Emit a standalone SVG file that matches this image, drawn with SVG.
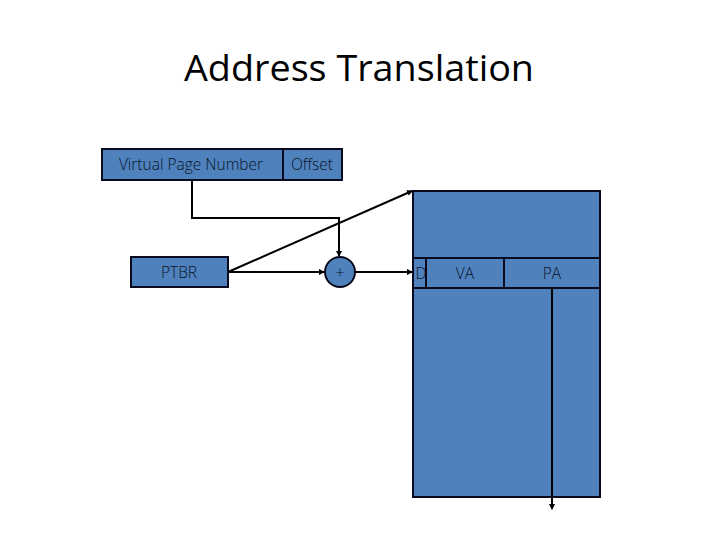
<svg xmlns="http://www.w3.org/2000/svg" width="720" height="540" viewBox="0 0 720 540">
<defs>
<style>
.box{fill:#4F81BD;stroke:#0a0a1e;stroke-width:2}
.lbl{font-family:"Open Sans","Liberation Sans",sans-serif;font-size:15.5px;fill:#0a1428;text-anchor:middle;font-weight:300}
.ln{fill:none;stroke:#000;stroke-width:2}
</style>
<marker id="ah" viewBox="0 0 6 6" refX="5" refY="3" markerWidth="3" markerHeight="3" orient="auto" markerUnits="strokeWidth">
<path d="M0,0 L6,3 L0,6 z" fill="#000"/>
</marker>
</defs>
<rect width="720" height="540" fill="#fff"/>
<text x="359" y="81" font-family="'Open Sans','Liberation Sans',sans-serif" font-size="36" text-anchor="middle" fill="#000" textLength="350" lengthAdjust="spacingAndGlyphs">Address Translation</text>

<g id="vpn">
<rect class="box" x="102" y="149" width="181" height="31"/>
<text class="lbl" x="191" y="170">Virtual Page Number</text>
</g>
<g id="offset">
<rect class="box" x="283" y="149" width="59" height="31"/>
<text class="lbl" x="312" y="170">Offset</text>
</g>
<g id="ptbr">
<rect class="box" x="131" y="257" width="97" height="30"/>
<text class="lbl" x="179" y="278">PTBR</text>
</g>
<g id="adder">
<circle class="box" cx="340" cy="272" r="15"/>
<text class="lbl" x="340" y="278">+</text>
</g>
<g id="pagetable">
<rect class="box" x="413" y="191" width="187" height="306"/>
<rect class="box" x="413" y="258" width="13" height="30"/>
<rect class="box" x="426" y="258" width="78" height="30"/>
<rect class="box" x="504" y="258" width="96" height="30"/>
<text class="lbl" x="421" y="279">D</text>
<text class="lbl" x="465" y="279">VA</text>
<text class="lbl" x="552" y="279">PA</text>
</g>
<g id="connectors">
<polyline class="ln" points="192,180 192,218 339,218 339,256" marker-end="url(#ah)"/>
<line class="ln" x1="228" y1="272" x2="324" y2="272" marker-end="url(#ah)"/>
<line class="ln" x1="228" y1="272" x2="412" y2="191" marker-end="url(#ah)"/>
<line class="ln" x1="355" y1="272" x2="412" y2="272" marker-end="url(#ah)"/>
<line class="ln" x1="552" y1="288" x2="552" y2="509" marker-end="url(#ah)"/>
</g>
</svg>
